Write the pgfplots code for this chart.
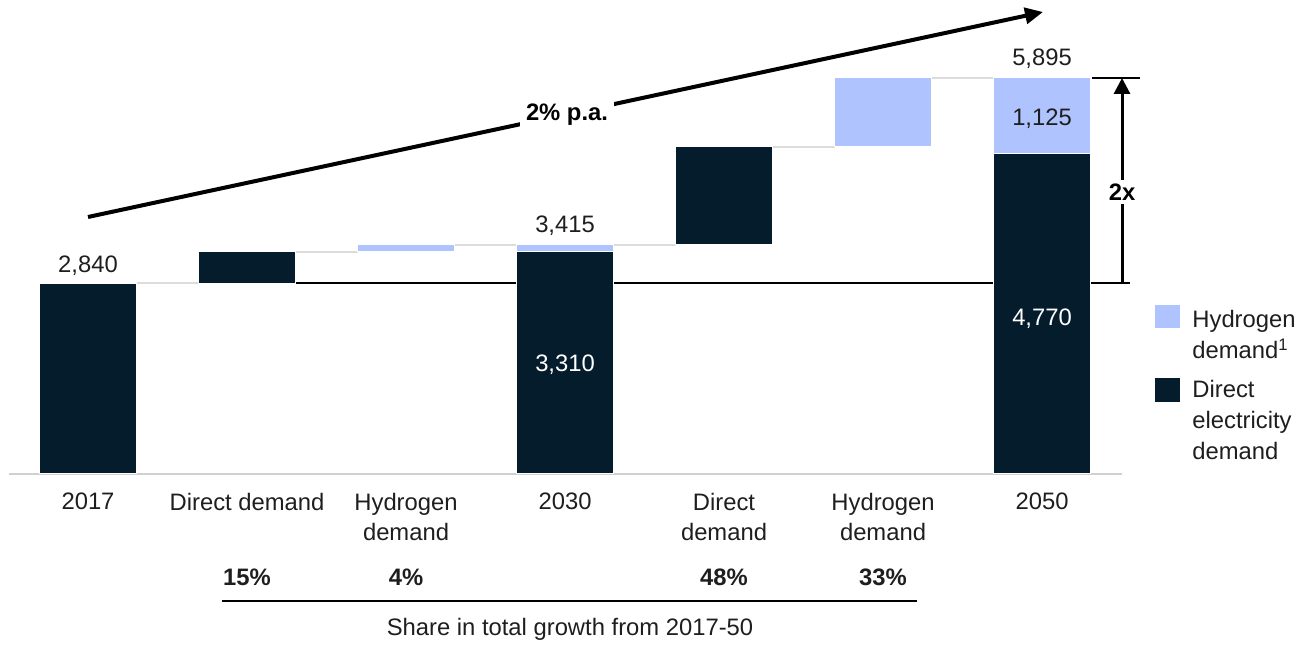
\documentclass[border=0pt]{standalone}
\usepackage{fontspec}
\setmainfont{Liberation Sans}
\usepackage{pgfplots}
\pgfplotsset{compat=1.18}
\usetikzlibrary{arrows.meta}

\definecolor{navy}{HTML}{051C2C}
\definecolor{hblue}{HTML}{AFC3FF}
\definecolor{conn}{HTML}{DCDCDC}
\definecolor{basel}{HTML}{D0D0D0}
\definecolor{txt}{HTML}{1E1E1E}
\newcommand{\lab}{\fontsize{11.9}{15}\selectfont}

\begin{document}
\begin{tikzpicture}
% 1px of the reference = 0.5pt
\begin{scope}[x=0.5pt,y=-0.5pt]
  \useasboundingbox (0,0) rectangle (1304,642);
\end{scope}

\begin{axis}[
  at={(4.5pt,-237pt)}, anchor=south west,
  scale only axis, width=556.5pt, height=198pt,
  xmin=-0.497, xmax=6.503, ymin=0, ymax=5895,
  ybar stacked, bar width=0.61,
  axis y line=none, axis x line=bottom,
  x axis line style={-, draw=basel, line width=1pt},
  xtick={0,...,6}, major tick length=0, ytick=\empty,
  xticklabels={2017, Direct demand, {Hydrogen\\demand}, 2030, {Direct\\demand}, {Hydrogen\\demand}, 2050},
  xticklabel style={align=center, font=\lab, text=txt, yshift=-6pt},
  clip=false,
]
% invisible offsets of the waterfall
\addplot[draw=none, fill=none] coordinates {(0,0) (1,2840) (2,3310) (3,0) (4,3415) (5,4875) (6,0)};
% direct electricity demand
\addplot[fill=navy, draw=white, line width=0.5pt] coordinates {(0,2840) (1,470) (2,0) (3,3310) (4,1460) (5,0) (6,4770)};
% hydrogen demand
\addplot[fill=hblue, draw=white, line width=0.5pt] coordinates {(0,0) (1,0) (2,105) (3,105) (4,0) (5,1020) (6,1125)};

% connectors
\draw[conn, line width=1pt] (axis cs:0.305,2840) -- (axis cs:0.695,2840);
\draw[conn, line width=1pt] (axis cs:1.305,3310) -- (axis cs:1.695,3310);
\draw[conn, line width=1pt] (axis cs:2.305,3415) -- (axis cs:2.695,3415);
\draw[conn, line width=1pt] (axis cs:3.305,3415) -- (axis cs:3.695,3415);
\draw[conn, line width=1pt] (axis cs:4.305,4875) -- (axis cs:4.695,4875);
\draw[conn, line width=1pt] (axis cs:5.305,5895) -- (axis cs:5.695,5895);
\draw[black, line width=0.8pt] (axis cs:1.31,2840) -- (axis cs:6.553,2840);

% anchor points for labels drawn on top
\coordinate (twox0) at (axis cs:6.503,2840);
\coordinate (twox1) at (axis cs:6.503,5895);
\coordinate (tk0) at (axis cs:6.315,5895);
\coordinate (tk1) at (axis cs:6.616,5895);
\coordinate (twoxl) at (axis cs:6.503,4198);
\coordinate (v2840) at (axis cs:0,2840);
\coordinate (v3415) at (axis cs:3,3415);
\coordinate (v5895) at (axis cs:6,5895);
\coordinate (v3310) at (axis cs:3,1533);
\coordinate (v4770) at (axis cs:6,2218);
\coordinate (v1125) at (axis cs:6,5195);
\end{axis}

% 2x arrow
\draw[black, line width=0.8pt] (tk0) -- (tk1);
\draw[black, line width=1.5pt, -{Triangle[length=8pt,width=8pt]}] (twox0) -- (twox1);
\node[fill=white, inner sep=2pt, font=\lab\bfseries, text=black] at (twoxl) {2x};

% value labels
\node[anchor=base, font=\lab, text=txt, yshift=5.5pt] at (v2840) {2,840};
\node[anchor=base, font=\lab, text=txt, yshift=6pt] at (v3415) {3,415};
\node[anchor=base, font=\lab, text=txt, yshift=6pt] at (v5895) {5,895};
\node[anchor=base, font=\lab, text=white] at (v3310) {3,310};
\node[anchor=base, font=\lab, text=white] at (v4770) {4,770};
\node[anchor=base, font=\lab, text=txt] at (v1125) {1,125};

\begin{scope}[x=0.5pt,y=-0.5pt]
  % growth arrow
  \draw[black, line width=2pt, -{Triangle[length=9pt,width=8pt]}] (88,217) -- (1043,12);
  \node[fill=white, inner sep=3pt, font=\lab\bfseries] at (567,115) {2\% p.a.};

  % shares
  \node[anchor=base, font=\lab\bfseries, text=txt] at (247,585) {15\%};
  \node[anchor=base, font=\lab\bfseries, text=txt] at (406,585) {4\%};
  \node[anchor=base, font=\lab\bfseries, text=txt] at (724,585) {48\%};
  \node[anchor=base, font=\lab\bfseries, text=txt] at (883,585) {33\%};
  \draw[black, line width=0.8pt] (222,601) -- (917,601);
  \node[anchor=base, font=\lab, text=txt] at (570,635) {Share in total growth from 2017-50};

  % legend
  \fill[hblue] (1155,305) rectangle (1180,328);
  \fill[navy] (1155,378) rectangle (1180,402);
  \node[anchor=base west, inner sep=0pt, font=\lab, text=txt] at (1192,328) {Hydrogen};
  \node[anchor=base west, inner sep=0pt, font=\lab, text=txt] at (1192,359) {demand\textsuperscript{1}};
  \node[anchor=base west, inner sep=0pt, font=\lab, text=txt] at (1192,398) {Direct};
  \node[anchor=base west, inner sep=0pt, font=\lab, text=txt] at (1192,429) {electricity};
  \node[anchor=base west, inner sep=0pt, font=\lab, text=txt] at (1192,460) {demand};
\end{scope}
\end{tikzpicture}
\end{document}
